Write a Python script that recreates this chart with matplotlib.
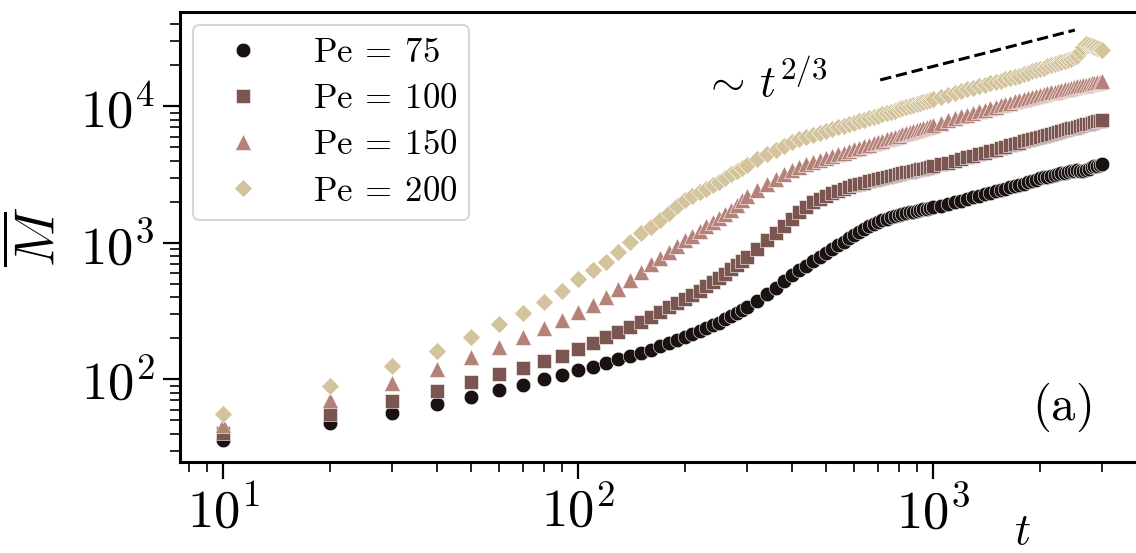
import numpy as np
import matplotlib
matplotlib.use("Agg")
import matplotlib.pyplot as plt

plt.rcParams["font.family"] = "serif"
plt.rcParams["font.serif"] = ["cmr10", "DejaVu Serif"]
plt.rcParams["mathtext.fontset"] = "cm"
plt.rcParams["axes.formatter.use_mathtext"] = True

# time grid (sampled from the figure)
t = np.concatenate([np.arange(10, 301, 10), np.arange(320, 1001, 20), np.arange(1050, 3001, 50)])

m_pe75 = [36, 47.5, 57, 66.5, 74.5, 83, 90.5, 100, 107, 117, 124, 131, 140, 148, 157, 164, 175, 186, 194, 203,
          214, 225, 236, 248, 260, 275, 290, 305, 320, 337,
          375, 420, 470, 525, 580, 630, 680, 735, 790, 845, 900, 960, 1020, 1080, 1145, 1210, 1270, 1330, 1380, 1425,
          1465, 1500, 1535, 1565, 1595, 1620, 1645, 1670, 1695, 1715, 1740, 1760, 1780, 1800, 1820,
          1870, 1920, 1975, 2030, 2090, 2150, 2210, 2270, 2330, 2390, 2440, 2500, 2550, 2600, 2660, 2720, 2780, 2840,
          2900, 2960, 3020, 3060, 3100, 3140, 3180, 3220, 3260, 3300, 3340, 3370, 3400, 3380, 3360, 3420, 3500, 3570,
          3630, 3680, 3730, 3790]
m_pe100 = [40.5, 56, 69.5, 82, 96, 109, 122, 137, 149, 166, 185, 203, 223, 243, 264, 287, 312, 337, 360, 385,
           415, 445, 480, 515, 549, 590, 640, 690, 740, 790,
           900, 1040, 1180, 1330, 1500, 1680, 1840, 1980, 2100, 2210, 2310, 2400, 2480, 2560, 2630, 2700, 2760, 2820,
           2880, 2930, 2980, 3030, 3080, 3130, 3180, 3230, 3280, 3330, 3380, 3420, 3460, 3500, 3550, 3600, 3650,
           3750, 3860, 3980, 4100, 4220, 4340, 4460, 4580, 4700, 4820, 4940, 5060, 5180, 5300, 5420, 5530, 5640, 5750,
           5860, 5970, 6080, 6190, 6300, 6400, 6500, 6600, 6700, 6800, 6900, 6990, 7080, 7180, 7280, 7380, 7480, 7580,
           7680, 7780, 7860, 7940]
m_pe150 = [46, 70, 94, 120, 146, 173, 205, 236, 272, 313, 352, 400, 460, 530, 610, 700, 780, 860, 950, 1040,
           1130, 1220, 1320, 1420, 1510, 1620, 1750, 1900, 2050, 2200,
           2450, 2700, 2950, 3200, 3420, 3620, 3760, 3900, 4030, 4170, 4300, 4440, 4570, 4700, 4830, 4960, 5090, 5220,
           5350, 5470, 5600, 5730, 5850, 5980, 6100, 6220, 6350, 6470, 6590, 6710, 6830, 6950, 7070, 7190, 7300,
           7600, 7900, 8200, 8450, 8700, 8950, 9180, 9400, 9650, 9900, 10150, 10400, 10650, 10900, 11100, 11300,
           11500, 11700, 11900, 12100, 12300, 12480, 12650, 12820, 13000, 13170, 13340, 13500, 13660, 13820, 13980,
           14130, 14280, 14430, 14580, 14730, 14880, 15020, 15160, 15300]
m_pe200 = [56, 89, 125, 162, 205, 254, 304, 370, 446, 541, 632, 727, 861, 1019, 1175, 1313, 1480, 1642, 1870, 2050,
           2200, 2350, 2500, 2650, 2800, 2990, 3180, 3380, 3550, 3715,
           4100, 4450, 4800, 5150, 5450, 5750, 5960, 6170, 6380, 6590, 6790, 7000, 7200, 7400, 7590, 7790, 7990, 8180,
           8370, 8560, 8750, 8940, 9130, 9310, 9500, 9690, 9870, 10060, 10240, 10420, 10600, 10780, 10960, 11130,
           11310,
           11700, 12100, 12500, 12900, 13300, 13650, 14000, 14350, 14700, 15050, 15400, 15750, 16100, 16450, 16800,
           17200, 17600, 18000, 18400, 18800, 19200, 19600, 20000, 20400, 20800, 21200, 21600, 22000, 22400, 22800,
           23500, 24800, 27000, 28500, 28000, 27500, 27200, 26800, 26300, 25800]

labels = [r"$\mathrm{Pe}\:=\:75$", r"$\mathrm{Pe}\:=\:100$", r"$\mathrm{Pe}\:=\:150$", r"$\mathrm{Pe}\:=\:200$"]
colors = ["#1a1210", "#7b5550", "#b58279", "#d3c49d"]
markers = ["o", "s", "^", "D"]
sizes = [10.5, 10, 11.5, 9.5]

# guide line ~ t^(2/3)
guide_t = [710, 2510]
guide_m = [15600, 36200]

fig = plt.figure(figsize=(11.36, 5.53), dpi=100)
ax = fig.add_axes([0.1585, 0.1646, 0.8415, 0.8137])

for m, lab, c, mk, ms in zip([m_pe75, m_pe100, m_pe150, m_pe200], labels, colors, markers, sizes):
    ax.plot(t, m, ls="none", marker=mk, ms=ms, color=c, mec="white", mew=0.4, label=lab)

ax.plot(guide_t, guide_m, "k--", lw=2.2)

ax.set_xscale("log")
ax.set_yscale("log")
ax.set_xlim(7.565, 3731)
ax.set_ylim(24.8, 49090)

for s in ["left", "bottom", "top"]:
    ax.spines[s].set_linewidth(2.2)
ax.spines["right"].set_visible(False)
ax.tick_params(which="major", length=12.5, width=1.6, labelsize=38, direction="out")
ax.tick_params(which="minor", length=7, width=1.2, direction="out")
ax.tick_params(axis="x", pad=5)
ax.tick_params(axis="y", pad=6)

ax.set_ylabel(r"$\overline{M}$", fontsize=40, labelpad=10)
fig.text(1022 / 1136, 1 - 533 / 553, r"$t$", fontsize=32, ha="center", va="center")
ax.text(1062 / 1136, 1 - 407 / 553, r"$(\mathrm{a})$", fontsize=35, ha="center", va="center",
        transform=fig.transFigure)
ax.text(765 / 1136, 1 - 83 / 553, r"$\sim\,t^{2/3}$", fontsize=32, ha="center", va="center",
        transform=fig.transFigure)

leg = ax.legend(loc="upper left", fontsize=25, frameon=True, fancybox=True, handletextpad=0.9,
                borderpad=0.35, labelspacing=0.42, bbox_to_anchor=(0.0136, 0.971), borderaxespad=0,
                handlelength=2.2)
leg.get_frame().set_edgecolor("#cccccc")
leg.get_frame().set_linewidth(1.5)

fig.savefig("out.png", dpi=100)
